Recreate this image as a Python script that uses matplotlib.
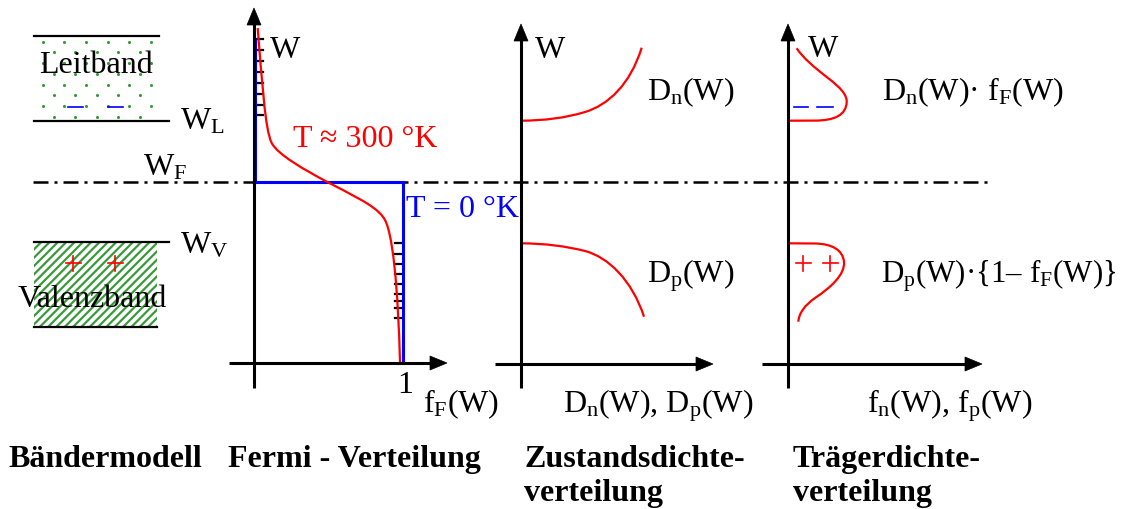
import numpy as np
import matplotlib
matplotlib.use("Agg")
import matplotlib.pyplot as plt
from matplotlib.path import Path
from matplotlib.patches import PathPatch, Rectangle, Polygon

plt.rcParams['font.family'] = ['Liberation Serif', 'DejaVu Serif']
plt.rcParams['mathtext.fontset'] = 'custom'
plt.rcParams['mathtext.rm'] = 'Liberation Serif'
plt.rcParams['mathtext.it'] = 'Liberation Serif:italic'
plt.rcParams['mathtext.bf'] = 'Liberation Serif:bold'
plt.rcParams['lines.scale_dashes'] = False
plt.rcParams['hatch.linewidth'] = 1.6

# ---------------------------------------------------------------------------
# Diagram geometry (drawing units, y grows downwards)
# ---------------------------------------------------------------------------
W_L = 120.5          # conduction band edge
W_F = 182.0          # Fermi level
W_V = 242.0          # valence band edge

LEITBAND_TOP = 36.0
VALENZBAND_BOTTOM = 327.0
BAND_LINE_X = (34.0, 169.0)
BAND_FILL_X = (34.0, 157.0)

# one entry per panel: Fermi, density of states, carrier density
AXIS_ORIGIN_X = [254.0, 521.0, 788.0]
AXIS_BASE_Y = [363.0, 364.0, 364.0]
AXIS_TOP_Y = [8.0, 24.0, 24.0]
AXIS_LEFT_X = [229.0, 495.0, 762.0]
AXIS_RIGHT_X = [447.0, 713.0, 982.0]
AXIS_BOTTOM_Y = 388.0

FERMI_LINE_X = (33.0, 990.0)

# f_F(W) at T = 0 K (step) and T ~ 300 K (smooth Fermi curve)
FERMI_0K = [(255.0, 40.0), (255.0, W_F), (403.0, W_F), (403.0, 363.0)]
FERMI_300K = [(257.7, 28.0),
              ('C', (262.0, 80.0), (265.0, 130.0), (271.7, 143.0)),
              ('C', (278.0, 155.0), (305.0, 170.0), (326.7, 181.7)),
              ('C', (348.0, 193.0), (375.0, 205.0), (383.0, 217.0)),
              ('C', (393.0, 228.0), (398.0, 290.0), (400.0, 362.0))]

# occupied states above W_F / empty states below W_F in the Fermi panel
ELECTRON_TICKS_Y = [39, 50, 61, 72, 83, 94, 105, 115]
ELECTRON_TICKS_X = (255.0, 263.0)
HOLE_TICKS_Y = [243, 254, 264, 274, 284, 294, 301, 308, 318]
HOLE_TICKS_X = (395.0, 403.0)

# density of states D_n(W), D_p(W)
DOS_N = [(520.7, 120.7),
         ('C', (545.0, 120.5), (565.0, 118.0), (585.0, 112.0)),
         ('C', (608.0, 105.0), (630.0, 85.0), (641.7, 47.7))]
DOS_P = [(520.7, 243.3),
         ('C', (545.0, 243.5), (565.0, 246.0), (585.0, 251.0)),
         ('C', (608.0, 257.0), (632.0, 280.0), (644.0, 316.7))]

# carrier densities n(W) = D_n f_F and p(W) = D_p (1 - f_F)
CARRIER_N = [(796.7, 48.3),
             ('C', (803.0, 58.0), (815.0, 68.0), (828.0, 78.0)),
             ('C', (841.0, 88.0), (847.0, 95.0), (846.7, 102.0)),
             ('C', (846.0, 115.0), (835.0, 120.5), (815.0, 120.6)),
             ('L', (787.7, 120.7))]
CARRIER_P = [(787.7, 243.3),
             ('L', (815.0, 243.5)),
             ('C', (832.0, 243.8), (843.0, 250.0), (844.0, 262.0)),
             ('C', (845.0, 275.0), (830.0, 288.0), (815.0, 298.0)),
             ('C', (805.0, 305.0), (799.0, 313.0), (798.3, 321.7))]

# electron (-) and hole (+) symbols
ELECTRON_MARKS = [((68.0, 83.0), 106.7), ((108.0, 123.0), 106.7),
                  ((794.0, 808.0), 106.7), ((817.0, 833.0), 106.7)]
HOLE_MARKS = [(73.3, 263.3), (115.0, 263.3), (803.3, 263.3), (830.0, 263.3)]

# dotted fill of the conduction band
DOT_PITCH_X = 21.6
DOT_PITCH_Y = 10.75
DOT_FIRST = (42.7, 41.7)
DOT_ROWS = 8

BLACK = 'black'
RED = '#ff0000'
BLUE = '#0000ff'
GREEN = '#3a9a3a'

LABEL_SIZE = 23
TITLE_SIZE = 23

LABELS = [
    (39, 73, 'Leitband', BLACK, LABEL_SIZE),
    (18, 307, 'Valenzband', BLACK, LABEL_SIZE),
    (180, 130, r'$\mathrm{W}_\mathrm{L}$', BLACK, LABEL_SIZE),
    (143, 175, r'$\mathrm{W}_\mathrm{F}$', BLACK, LABEL_SIZE),
    (180, 253, r'$\mathrm{W}_\mathrm{V}$', BLACK, LABEL_SIZE),
    (270, 58, 'W', BLACK, LABEL_SIZE),
    (535, 58, 'W', BLACK, LABEL_SIZE),
    (808, 57, 'W', BLACK, LABEL_SIZE),
    (293, 147, 'T ≈ 300 °K', RED, LABEL_SIZE),
    (406, 217, 'T = 0 °K', BLUE, LABEL_SIZE),
    (397, 393, '1', BLACK, LABEL_SIZE),
    (423, 412, r'$\mathrm{f}_\mathrm{F}$(W)', BLACK, LABEL_SIZE),
    (563, 412, r'$\mathrm{D}_\mathrm{n}$(W), $\mathrm{D}_\mathrm{p}$(W)', BLACK, LABEL_SIZE),
    (867, 412, r'$\mathrm{f}_\mathrm{n}$(W), $\mathrm{f}_\mathrm{p}$(W)', BLACK, LABEL_SIZE),
    (647, 100, r'$\mathrm{D}_\mathrm{n}$(W)', BLACK, LABEL_SIZE),
    (647, 283, r'$\mathrm{D}_\mathrm{p}$(W)', BLACK, LABEL_SIZE),
    (882, 100, r'$\mathrm{D}_\mathrm{n}$(W)· $\mathrm{f}_\mathrm{F}$(W)', BLACK, LABEL_SIZE),
    (881, 283, r'$\mathrm{D}_\mathrm{p}$(W)·{1– $\mathrm{f}_\mathrm{F}$(W)}', BLACK, 22.3),
]

TITLES = [
    (8, 467, 'Bändermodell'),
    (228, 467, 'Fermi - Verteilung'),
    (524, 467, 'Zustandsdichte-'),
    (524, 501, 'verteilung'),
    (793, 467, 'Trägerdichte-'),
    (793, 501, 'verteilung'),
]

# ---------------------------------------------------------------------------
FIG_W, FIG_H = 1123, 509
fig = plt.figure(figsize=(FIG_W / 100, FIG_H / 100), dpi=100)
ax = fig.add_axes([0, 0, 1, 1])
ax.set_xlim(0, FIG_W)
ax.set_ylim(FIG_H, 0)
ax.axis('off')


def bezier(spec):
    verts = [spec[0]]
    codes = [Path.MOVETO]
    for seg in spec[1:]:
        if seg[0] == 'C':
            verts += [seg[1], seg[2], seg[3]]
            codes += [Path.CURVE4] * 3
        else:
            verts.append(seg[1])
            codes.append(Path.LINETO)
    return Path(verts, codes)


def curve(spec, color, lw, z=4):
    ax.add_patch(PathPatch(bezier(spec), fill=False, edgecolor=color,
                           lw=lw, capstyle='butt', joinstyle='round', zorder=z))


HEAD_LEN = 17.0
HEAD_HALF = 7.0


def arrow_axis(x0, y0, x1, y1):
    """Axis line from (x0, y0) to the arrow tip (x1, y1)."""
    d = np.array([x1 - x0, y1 - y0], float)
    d /= np.hypot(*d)
    n = np.array([-d[1], d[0]])
    base = np.array([x1, y1]) - HEAD_LEN * d
    ax.plot([x0, base[0] + d[0]], [y0, base[1] + d[1]], color=BLACK,
            lw=2.2, solid_capstyle='butt', zorder=5)
    ax.add_patch(Polygon([(x1, y1), base + HEAD_HALF * n, base - HEAD_HALF * n],
                         closed=True, facecolor=BLACK, edgecolor=BLACK,
                         lw=0.5, zorder=5))


# --- band model -------------------------------------------------------------
dots_x, dots_y = [], []
for r in range(DOT_ROWS):
    y = DOT_FIRST[1] + r * DOT_PITCH_Y
    x = DOT_FIRST[0] - (DOT_PITCH_X / 2 if r % 2 else 0.0)
    while x < BAND_FILL_X[1]:
        if x >= BAND_FILL_X[0]:
            dots_x.append(x)
            dots_y.append(y)
        x += DOT_PITCH_X
ax.scatter(dots_x, dots_y, s=5, color=GREEN, lw=0, zorder=2)

ax.add_patch(Rectangle((BAND_FILL_X[0], W_V), BAND_FILL_X[1] - BAND_FILL_X[0],
                       VALENZBAND_BOTTOM - W_V, facecolor='white',
                       edgecolor=GREEN, hatch='////', lw=0, zorder=1))

ax.plot([BAND_LINE_X[0], 159.0], [LEITBAND_TOP] * 2, color=BLACK, lw=1.6, zorder=3)
ax.plot(BAND_LINE_X, [W_L] * 2, color=BLACK, lw=1.6, zorder=3)
ax.plot(BAND_LINE_X, [W_V] * 2, color=BLACK, lw=1.6, zorder=3)
ax.plot(BAND_FILL_X, [VALENZBAND_BOTTOM] * 2, color=BLACK, lw=1.6, zorder=3)

# Fermi level across all panels
ax.plot(FERMI_LINE_X, [W_F] * 2, color=BLACK, lw=1.8,
        dashes=(10.8, 4.3, 2.2, 4.3), zorder=2)

# --- axes -------------------------------------------------------------------
for ox, by, ty, lx, rx in zip(AXIS_ORIGIN_X, AXIS_BASE_Y, AXIS_TOP_Y,
                              AXIS_LEFT_X, AXIS_RIGHT_X):
    arrow_axis(ox, AXIS_BOTTOM_Y, ox, ty)
    arrow_axis(lx, by, rx, by)

# --- Fermi distribution -----------------------------------------------------
fx, fy = zip(*FERMI_0K)
ax.plot(fx, fy, color=BLUE, lw=2.2, solid_joinstyle='miter', zorder=4)
for y in ELECTRON_TICKS_Y:
    ax.plot(ELECTRON_TICKS_X, [y, y], color=BLACK, lw=1.6, zorder=3)
for y in HOLE_TICKS_Y:
    ax.plot(HOLE_TICKS_X, [y, y], color=BLACK, lw=1.6, zorder=3)
curve(FERMI_300K, RED, 1.6, z=6)

# --- density of states / carrier densities ----------------------------------
for spec in (DOS_N, DOS_P, CARRIER_N, CARRIER_P):
    curve(spec, RED, 1.6)

for (xa, xb), y in ELECTRON_MARKS:
    ax.plot([xa, xb], [y, y], color=BLUE, lw=1.2, zorder=4)
for x, y in HOLE_MARKS:
    ax.plot([x - 7.5, x + 7.5], [y, y], color=RED, lw=1.2, zorder=4)
    ax.plot([x, x], [y - 7.5, y + 7.5], color=RED, lw=1.2, zorder=4)

# --- text -------------------------------------------------------------------
for x, y, s, c, size in LABELS:
    ax.text(x, y, s, color=c, fontsize=size, ha='left', va='baseline',
            zorder=7)
for x, y, s in TITLES:
    ax.text(x, y, s, color=BLACK, fontsize=TITLE_SIZE, fontweight='bold',
            ha='left', va='baseline', zorder=7)

fig.savefig('out.png', dpi=100, facecolor='white')
